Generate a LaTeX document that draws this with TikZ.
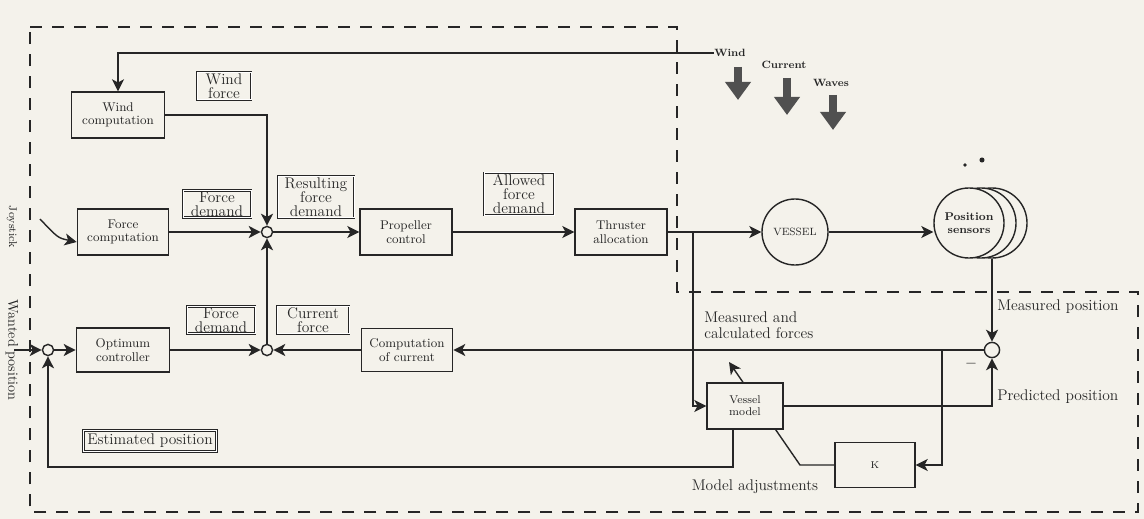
\documentclass[tikz,border=0pt]{standalone}
\usepackage{tikz}
\usetikzlibrary{arrows.meta,positioning,calc}
\definecolor{paper}{RGB}{244,242,235}
\definecolor{ink}{RGB}{38,38,38}
\definecolor{storm}{RGB}{80,80,80}

\tikzset{
  block/.style={draw=ink, line width=1pt, fill=paper, align=center, text=ink, font=\fontsize{9}{9.5}\selectfont},
  tag/.style={draw=ink, double, double distance=0.7pt, line width=0.6pt, fill=paper, align=center, inner sep=1pt, text=ink, font=\fontsize{11}{10}\selectfont},
  sumnode/.style={circle, draw=ink, line width=1pt, fill=paper, minimum size=0.28cm, inner sep=0pt},
  sensor/.style={circle, draw=ink, line width=1pt, fill=paper, minimum size=1.75cm, inner sep=0pt, align=center, text=ink},
  flow/.style={draw=ink, line width=1pt, -{Stealth[length=3mm,width=3mm,inset=0.8mm]}},
  boundary/.style={draw=ink, line width=1.2pt, dash pattern=on 0.3cm off 0.25cm},
  weather/.style={draw=storm, line width=0.22cm, -{Triangle[length=0.45cm,width=0.62cm]}},
  note/.style={inner sep=0pt, text=ink, font=\fontsize{11}{11}\selectfont},
  gust/.style={inner sep=0pt, text=ink, font=\bfseries\fontsize{7.5}{8}\selectfont}
}

\begin{document}
\begin{tikzpicture}[x=0.025cm, y=-0.025cm]
    \fill[paper] (0,0) rectangle (1144,519);
    \useasboundingbox (0,0) rectangle (1144,519);

    % Controller boundary
    \draw[boundary] (30,27) -- (677,27) -- (677,292) -- (1138,292) -- (1138,512) -- (30,512) -- cycle;

    % Blocks
    \node[block, minimum width=2.33cm, minimum height=1.15cm] (wcomp) at (118,115) {Wind\\computation};
    \node[block, minimum width=2.28cm, minimum height=1.15cm] (fcomp) at (123,232) {Force\\computation};
    \node[block, minimum width=2.3cm, minimum height=1.15cm] (prop) at (406,232) {Propeller\\control};
    \node[block, minimum width=2.3cm, minimum height=1.15cm] (thr) at (621,232) {Thruster\\allocation};
    \node[block, minimum width=2.33cm, minimum height=1.1cm] (optc) at (123,350) {Optimum\\controller};
    \node[block, minimum width=2.28cm, minimum height=1.08cm] (ccur) at (407,350) {Computation\\of current};
    \node[block, minimum width=2cm, minimum height=1.12cm, font=\fontsize{7}{8}\selectfont] (kbox) at (875,465) {K};

    % Label boxes
    \node[tag, minimum width=1.35cm] (wforce) at (224,86) {Wind\\force};
    \node[tag, minimum width=1.7cm] (fdem1) at (217,204) {Force\\demand};
    \node[tag, minimum width=1.9cm] (rfdem) at (316,197) {Resulting\\force\\demand};
    \node[tag, minimum width=1.75cm] (afdem) at (519,194) {Allowed\\force\\demand};
    \node[tag, minimum width=1.7cm] (fdem2) at (221,320) {Force\\demand};
    \node[tag, minimum width=1.8cm] (cforce) at (313,320) {Current\\force};
    \node[tag, inner sep=2.5pt] (estpos) at (150,441) {Estimated position};

    % Summing points
    \node[sumnode] (j0) at (48,350) {};
    \node[sumnode] (j1) at (267,232) {};
    \node[sumnode] (j2) at (267,350) {};
    \node[sumnode, minimum size=0.38cm] (j3) at (992,350) {};

    % Vessel and sensors
    \node[sensor, minimum size=1.65cm, font=\fontsize{7.5}{8}\selectfont] (vessel) at (795,232) {VESSEL};
    \node[sensor] (sensC) at (992,223) {};
    \node[sensor] (sensB) at (981,223) {};
    \node[sensor, font=\bfseries\fontsize{8}{9}\selectfont] (sens) at (969,223) {Position\\sensors};
    \fill[ink] (965,165) circle (1.3pt);
    \fill[ink] (982,160) circle (1.8pt);

    % Environment
    \node[gust, anchor=west] (windtxt) at (714,53) {Wind};
    \node[gust] (curtxt) at (784,65) {Current};
    \node[gust] (wavtxt) at (831,83) {Waves};
    \draw[weather] (738,67) -- (738,100);
    \draw[weather] (787,78) -- (787,115);
    \draw[weather] (833,95) -- (833,130);

    % Texts
    \node[note, rotate=-90, font=\fontsize{8}{9}\selectfont] (joytxt) at (12,227) {Joystick};
    \node[note, rotate=-90, font=\fontsize{10}{10}\selectfont] (wanttxt) at (12,350) {Wanted position};
    \node[note, anchor=west] (meastxt) at (997,307) {Measured position};
    \node[note, anchor=west] (predtxt) at (997,397) {Predicted position};
    \node[note, anchor=west, align=left] (mcf) at (704,325) {Measured and\\calculated forces};
    \node[note] (madj) at (755,487) {Model adjustments};
    \node[note] (minus) at (971,364) {$-$};

    % Forward path
    \coordinate (joy) at (40,219);
    \draw[flow] (joy) .. controls (58,238) .. ([yshift=-0.25cm]fcomp.west);
    \draw[flow] (fcomp) -- (j1);
    \draw[flow] (j1) -- (prop);
    \draw[flow] (prop) -- (thr);
    \draw[flow] (thr) -- (vessel);
    \draw[flow] (vessel.east) -- (vessel.east -| sens.west);
    \draw[flow] (windtxt.west) -| (wcomp.north);
    \draw[flow] (wcomp.east) -| (j1.north);
    \draw[flow] (j2) -- (j1);

    % Lower loop
    \coordinate (wanted) at (14,350);
    \draw[flow] (wanted) -- (j0);
    \draw[flow] (j0) -- (optc);
    \draw[flow] (optc) -- (j2);
    \draw[flow] (ccur) -- (j2);
    \draw[flow] (sensC.south) -- (j3);
    \draw[flow] (j3) -- (ccur);

    % Vessel model and K
    \coordinate (tap) at (693,232);
    \coordinate (ktap) at (942,350);
    \coordinate (adjbend) at (800,465);
    \coordinate (adjtip) at (729,362);
    \draw[flow] (ktap) |- (kbox.east);
    \draw[flow] (kbox.west) -- (adjbend) -- (adjtip);
    \node[block, minimum width=1.9cm, minimum height=1.15cm, font=\fontsize{8}{8.5}\selectfont] (vmod) at (745,406) {Vessel\\model};
    \draw[flow] (tap) |- (vmod.west);
    \draw[flow] (vmod.east) -| (j3.south);
    \coordinate (estcorner) at (48,467);
    \draw[flow] ([xshift=-0.3cm]vmod.south) |- (estcorner) -- (j0);
\end{tikzpicture}
\end{document}
